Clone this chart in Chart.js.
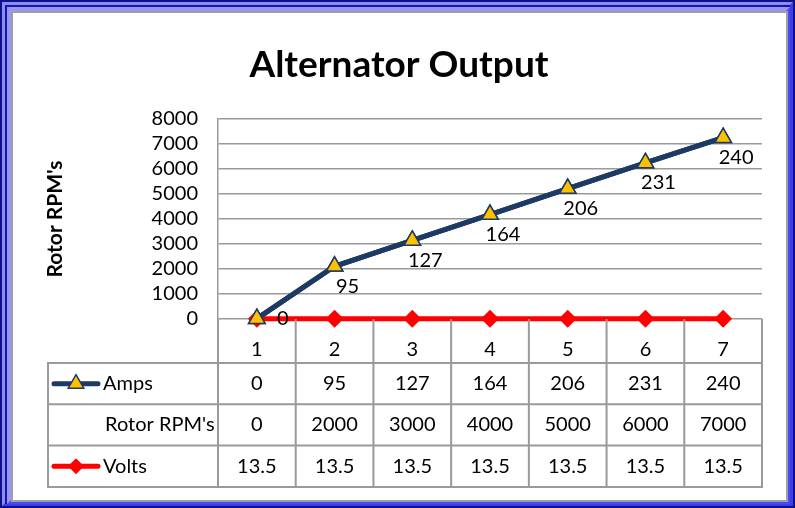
<!DOCTYPE html>
<html>
<head>
<meta charset="utf-8">
<script src="https://cdn.jsdelivr.net/npm/chart.js@4.4.1/dist/chart.umd.min.js"></script>
<style>
  html, body { margin: 0; padding: 0; background: #fff; }
  #wrap { width: 795px; height: 508px; position: relative; }
</style>
</head>
<body>
<div id="wrap"><canvas id="chartAlternator" width="795" height="508"></canvas></div>
<script>
// data dari tabel Excel
const kategori = ['1', '2', '3', '4', '5', '6', '7'];
const ampsValues = [0, 95, 127, 164, 206, 231, 240];
const rpmValues = [0, 2000, 3000, 4000, 5000, 6000, 7000];
const voltsValues = [13.5, 13.5, 13.5, 13.5, 13.5, 13.5, 13.5];
const yMin = 0, yMax = 8000, yStep = 1000;
const judul = 'Alternator Output';

const NAVY = '#1c3a63';
const KUNING = '#ffc000';
const MERAH = '#ff0000';
const ABU = '#9a9a9a';
const FONT = 'Lato, "Open Sans", sans-serif';
const UKURAN = 20;

function drawMarker(ctx, style, x, y, r, fill, stroke, lw) {
    ctx.beginPath();
    if (style === 'triangle') {
        let a = 0;
        for (let k = 0; k < 3; k++) {
            const px = x + Math.sin(a) * r, py = y - Math.cos(a) * r;
            if (k === 0) ctx.moveTo(px, py); else ctx.lineTo(px, py);
            a += Math.PI * 2 / 3;
        }
    } else {
        ctx.moveTo(x, y - r); ctx.lineTo(x + r, y); ctx.lineTo(x, y + r); ctx.lineTo(x - r, y);
    }
    ctx.closePath();
    ctx.fillStyle = fill; ctx.fill();
    if (lw) { ctx.lineWidth = lw; ctx.strokeStyle = stroke; ctx.stroke(); }
}

// bingkai biru + judul
const bingkaiPlugin = {
    id: 'bingkai',
    beforeDraw(chart) {
        const ctx = chart.ctx, W = chart.width, H = chart.height;
        ctx.save();
        const bevel = (x0, y0, x1, y1, tl, br) => {
            ctx.fillStyle = br; ctx.fillRect(x0, y0, x1 - x0, y1 - y0);
            const d = 30;
            ctx.beginPath();
            ctx.moveTo(x0, y0); ctx.lineTo(x1, y0); ctx.lineTo(x1 - d, y0 + d);
            ctx.lineTo(x0 + d, y0 + d); ctx.lineTo(x0 + d, y1 - d); ctx.lineTo(x0, y1);
            ctx.closePath(); ctx.fillStyle = tl; ctx.fill();
        };
        ctx.fillStyle = '#10108a'; ctx.fillRect(0, 0, W, H);
        bevel(2, 2, W - 2, H - 2, '#8c8cf0', '#3c3cee');
        ctx.fillStyle = '#1616a4'; ctx.fillRect(5, 5, W - 10, H - 9);
        bevel(7, 7, W - 5, H - 4, '#9696f4', '#4a4af6');
        ctx.fillStyle = '#a0a0a0'; ctx.fillRect(11, 11, W - 18, H - 17);
        ctx.fillStyle = '#ffffff'; ctx.fillRect(13, 13, W - 22, H - 21);

        ctx.font = 'bold 37px ' + FONT;
        ctx.fillStyle = '#000';
        ctx.textAlign = 'center';
        ctx.textBaseline = 'alphabetic';
        ctx.fillText(judul, 399, 77);
        ctx.restore();
    }
};

// Amps digambar ulang di atas Volts, lalu label nilainya
const labelPlugin = {
    id: 'labelAmps',
    afterDatasetsDraw(chart) {
        const ctx = chart.ctx, area = chart.chartArea;
        const meta = chart.getDatasetMeta(2);
        ctx.save();
        meta.controller.draw();
        ctx.font = UKURAN + 'px ' + FONT;
        ctx.fillStyle = '#000';
        ctx.textAlign = 'center';
        ctx.textBaseline = 'middle';
        meta.data.forEach((pt, i) => {
            let lx = pt.x + 13, ly = pt.y + 20;
            if (ly > area.bottom) { lx = pt.x + 26; ly = pt.y; }
            ctx.fillText(String(ampsValues[i]), lx, ly);
        });
        ctx.restore();
    }
};

// tabel data di bawah sumbu x
const tabelPlugin = {
    id: 'tabelData',
    afterDraw(chart) {
        const ctx = chart.ctx, area = chart.chartArea;
        const xs = chart.scales.x;
        const step = xs.getPixelForValue(1) - xs.getPixelForValue(0);
        const edges = [];
        for (let i = 0; i <= kategori.length; i++) edges.push(xs.getPixelForValue(i) - step / 2);
        const tabelKiri = 48;
        const rows = [
            { label: 'Amps', values: ampsValues, key: 'triangle', color: NAVY, fill: KUNING },
            { label: "Rotor RPM's", values: rpmValues, key: null },
            { label: 'Volts', values: voltsValues, key: 'diamond', color: MERAH, fill: MERAH }
        ];
        const rowTop = xs.bottom;
        const rowH = 41.3;
        const tabelBawah = rowTop + rowH * rows.length;

        ctx.save();
        ctx.strokeStyle = ABU;
        ctx.lineWidth = 2;
        ctx.beginPath();
        edges.forEach(x => { ctx.moveTo(x, area.bottom); ctx.lineTo(x, tabelBawah); });
        ctx.moveTo(tabelKiri, rowTop); ctx.lineTo(tabelKiri, tabelBawah);
        for (let r = 0; r <= rows.length; r++) {
            const y = rowTop + r * rowH;
            ctx.moveTo(tabelKiri - 1, y); ctx.lineTo(edges[edges.length - 1] + 1, y);
        }
        ctx.stroke();

        ctx.font = UKURAN + 'px ' + FONT;
        ctx.textBaseline = 'middle';
        rows.forEach((row, r) => {
            const cy = rowTop + r * rowH + rowH / 2;
            ctx.fillStyle = '#000';
            ctx.textAlign = 'left';
            ctx.fillText(row.label, row.key ? 103 : 105, cy);
            ctx.textAlign = 'center';
            row.values.forEach((v, i) => {
                ctx.fillText(String(v), (edges[i] + edges[i + 1]) / 2, cy);
            });
            if (row.key) {
                ctx.beginPath();
                ctx.lineCap = 'round';
                ctx.lineWidth = 5;
                ctx.strokeStyle = row.color;
                ctx.moveTo(tabelKiri + 6, cy); ctx.lineTo(tabelKiri + 50, cy);
                ctx.stroke();
                if (row.key === 'triangle') drawMarker(ctx, 'triangle', tabelKiri + 28, cy, 9, row.fill, row.color, 1.5);
                else drawMarker(ctx, 'diamond', tabelKiri + 28, cy, 8, row.fill, row.color, 0);
            }
        });
        ctx.restore();
    }
};

document.addEventListener('DOMContentLoaded', function () {
    const ctxAlt = document.getElementById('chartAlternator');
    // urutan tumpukan: Volts di bawah, Rotor RPM's, lalu Amps di atas
    new Chart(ctxAlt, {
        type: 'line',
        data: {
            labels: kategori,
            datasets: [{
                label: 'Volts',
                data: voltsValues,
                borderColor: MERAH,
                backgroundColor: MERAH,
                borderWidth: 5,
                pointStyle: 'rectRot',
                pointRadius: 9,
                pointBackgroundColor: MERAH,
                pointBorderColor: MERAH,
                pointBorderWidth: 0,
                tension: 0,
                clip: false,
                order: 1
            }, {
                label: "Rotor RPM's",
                data: rpmValues,
                showLine: false,
                pointRadius: 0,
                borderWidth: 0,
                order: 2
            }, {
                label: 'Amps',
                data: ampsValues,
                borderColor: NAVY,
                backgroundColor: NAVY,
                borderWidth: 5,
                pointStyle: 'triangle',
                pointRadius: 9.5,
                pointBackgroundColor: KUNING,
                pointBorderColor: NAVY,
                pointBorderWidth: 1.5,
                tension: 0,
                clip: false,
                order: 3
            }]
        },
        options: {
            responsive: false,
            animation: false,
            devicePixelRatio: 1,
            events: [],
            layout: { padding: { left: 0, right: 33, top: 119, bottom: 145 } },
            plugins: {
                legend: { display: false },
                tooltip: { enabled: false },
                title: { display: false }
            },
            scales: {
                x: {
                    offset: true,
                    grid: { display: false },
                    border: { display: false },
                    ticks: { color: '#000', font: { family: FONT, size: UKURAN }, padding: 11 },
                    afterFit(s) { s.height = 44; }
                },
                y: {
                    stacked: true,
                    min: yMin,
                    max: yMax,
                    ticks: {
                        stepSize: yStep,
                        autoSkip: false,
                        color: '#000',
                        font: { family: FONT, size: UKURAN },
                        padding: 20,
                        callback: v => String(v)
                    },
                    grid: { color: ABU, lineWidth: 1.5, drawTicks: false },
                    border: { display: true, color: ABU, width: 1.5 },
                    title: {
                        display: true,
                        text: "Rotor RPM's",
                        color: '#000',
                        font: { family: FONT, size: 21, weight: 'bold' },
                        padding: { top: 42.4, bottom: 0 }
                    },
                    afterFit(s) { s.width = 218; }
                }
            }
        },
        plugins: [bingkaiPlugin, labelPlugin, tabelPlugin]
    });
});
</script>
</body>
</html>
